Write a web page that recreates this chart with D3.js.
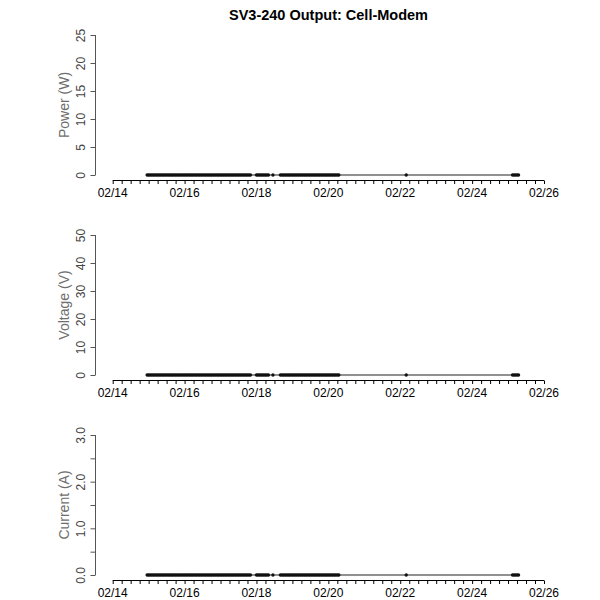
<!DOCTYPE html>
<html>
<head>
<meta charset="utf-8">
<script src="https://cdn.jsdelivr.net/npm/d3@7"></script>
<style>
  body { margin: 0; background: #fff; }
  text { font-family: "Liberation Sans", Arial, Helvetica, sans-serif; }
</style>
</head>
<body>
<div id="chart"></div>
<script>
// hours since 02/14 00:00 for each logged sample
var hours = [
  23,24,25,26,27,28,29,30,31,32,33,34,35,36,37,38,39,40,41,42,
  43,44,45,46,47,48,49,50,51,52,53,54,55,56,57,58,59,60,61,62,
  63,64,65,66,67,68,69,70,71,72,73,74,75,76,77,78,79,80,81,82,
  83,84,85,86,87,88,89,90,91,92,
  96,97,98,99,100,101,102,103,104,
  107,
  112,113,114,115,116,117,118,119,120,121,122,123,124,125,126,127,128,129,130,131,
  132,133,134,135,136,137,138,139,140,141,142,143,144,145,146,147,148,149,150,151,
  196,
  267,268,269,270,271
];
var powerW = [
  0,0,0,0,0,0,0,0,0,0,0,0,0,0,0,0,0,0,0,0,
  0,0,0,0,0,0,0,0,0,0,0,0,0,0,0,0,0,0,0,0,
  0,0,0,0,0,0,0,0,0,0,0,0,0,0,0,0,0,0,0,0,
  0,0,0,0,0,0,0,0,0,0,
  0,0,0,0,0,0,0,0,0,
  0,
  0,0,0,0,0,0,0,0,0,0,0,0,0,0,0,0,0,0,0,0,
  0,0,0,0,0,0,0,0,0,0,0,0,0,0,0,0,0,0,0,0,
  0,
  0,0,0,0,0
];
var voltageV = [
  0,0,0,0,0,0,0,0,0,0,0,0,0,0,0,0,0,0,0,0,
  0,0,0,0,0,0,0,0,0,0,0,0,0,0,0,0,0,0,0,0,
  0,0,0,0,0,0,0,0,0,0,0,0,0,0,0,0,0,0,0,0,
  0,0,0,0,0,0,0,0,0,0,
  0,0,0,0,0,0,0,0,0,
  0,
  0,0,0,0,0,0,0,0,0,0,0,0,0,0,0,0,0,0,0,0,
  0,0,0,0,0,0,0,0,0,0,0,0,0,0,0,0,0,0,0,0,
  0,
  0,0,0,0,0
];
var currentA = [
  0,0,0,0,0,0,0,0,0,0,0,0,0,0,0,0,0,0,0,0,
  0,0,0,0,0,0,0,0,0,0,0,0,0,0,0,0,0,0,0,0,
  0,0,0,0,0,0,0,0,0,0,0,0,0,0,0,0,0,0,0,0,
  0,0,0,0,0,0,0,0,0,0,
  0,0,0,0,0,0,0,0,0,
  0,
  0,0,0,0,0,0,0,0,0,0,0,0,0,0,0,0,0,0,0,0,
  0,0,0,0,0,0,0,0,0,0,0,0,0,0,0,0,0,0,0,0,
  0,
  0,0,0,0,0
];
var dayLabels = ["02/14","02/16","02/18","02/20","02/22","02/24","02/26"];
var panelLabels = ["Power (W)", "Voltage (V)", "Current (A)"];
var panelMax = [25, 50, 3];
var panelTicks = [[0,5,10,15,20,25], [0,10,20,30,40,50], [0,0.5,1,1.5,2,2.5,3]];
var panelTickText = [["0","5","10","15","20","25"], ["0","10","20","30","40","50"], ["0.0","","1.0","","2.0","","3.0"]];
var panelValues = [powerW, voltageV, currentA];

var W = 600, H = 600;
var svg = d3.select("#chart").append("svg")
  .attr("width", W).attr("height", H);

svg.append("text")
  .attr("x", 328.5).attr("y", 20)
  .attr("text-anchor", "middle")
  .style("font-size", "14.5px").style("font-weight", "bold")
  .text("SV3-240 Output: Cell-Modem");

var x = d3.scaleLinear().domain([0, 288]).range([112.7, 544]);

panelLabels.forEach(function(label, p){
  var top = 35 + p * 200, zero = 175 + p * 200;
  var y = d3.scaleLinear().domain([0, panelMax[p]]).range([zero, top]);
  var vals = panelValues[p];
  var pts = hours.map(function(h, i){ return [h, vals[i]]; });
  var g = svg.append("g");

  // y axis (R style: line spans tick range only)
  var yAxis = g.append("g").attr("transform", "translate(95.5,0)")
    .call(d3.axisLeft(y).tickValues(panelTicks[p]).tickSize(5)
      .tickFormat(function(d, i){ return panelTickText[p][i]; }));
  yAxis.select(".domain").attr("d", "M0," + y(0) + "V" + y(panelMax[p])).attr("stroke", "#555");
  yAxis.selectAll(".tick line").attr("stroke", "#555");
  yAxis.selectAll(".tick text")
    .attr("x", null).attr("dy", null)
    .attr("transform", "translate(-11,0) rotate(-90)")
    .attr("text-anchor", "middle")
    .attr("fill", "#444")
    .style("font-size", "12px").style("font-family", "Liberation Sans, Arial, sans-serif");

  g.append("text")
    .attr("transform", "translate(68.5," + ((top + zero) / 2) + ") rotate(-90)")
    .attr("text-anchor", "middle")
    .attr("fill", "#6e6e6e")
    .style("font-size", "14px")
    .text(label);

  // x axis
  var xa = zero + 5.5;
  var xAxis = g.append("g").attr("transform", "translate(0," + xa + ")")
    .call(d3.axisBottom(x).tickValues(d3.range(0, 289, 6)).tickSize(3.5).tickFormat(""));
  xAxis.select(".domain").attr("d", "M" + x(0) + ",0H" + x(288)).attr("stroke", "#000");
  xAxis.selectAll(".tick line").attr("stroke", "#000");

  g.selectAll(".daylab").data(dayLabels).enter().append("text")
    .attr("x", function(d, i){ return x(i * 48); })
    .attr("y", xa + 16.5)
    .attr("text-anchor", "middle")
    .style("font-size", "12px")
    .text(function(d){ return d; });

  // data line + points
  g.append("path").datum(pts)
    .attr("fill", "none").attr("stroke", "#222").attr("stroke-width", 1.1)
    .attr("d", d3.line().x(function(d){ return x(d[0]); }).y(function(d){ return y(d[1]); }));

  g.selectAll(".pt").data(pts).enter().append("circle")
    .attr("cx", function(d){ return x(d[0]); })
    .attr("cy", function(d){ return y(d[1]); })
    .attr("r", 1.7)
    .attr("fill", "#111");
});
</script>
</body>
</html>
